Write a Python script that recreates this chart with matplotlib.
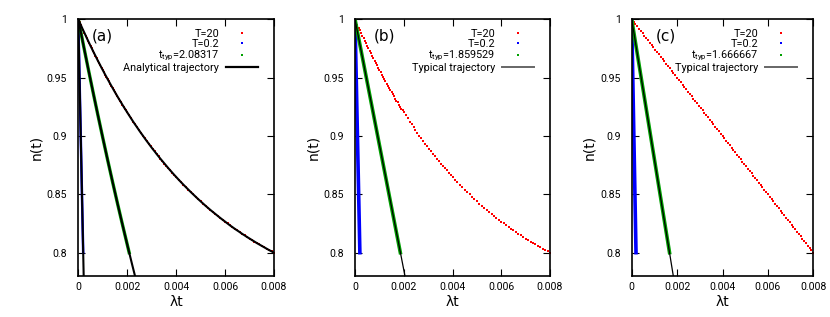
import matplotlib.pyplot as plt
from matplotlib.lines import Line2D

# values (lambda*t, n(t))
# T=20 run, panels (a) and (b)
t_red_ab = [0, 0.00005, 0.0001, 0.00015, 0.0002, 0.00025, 0.0003, 0.00035, 0.0004, 0.00045,
            0.0005, 0.00055, 0.0006, 0.00065, 0.0007, 0.00075, 0.0008, 0.00085, 0.0009, 0.00095,
            0.001, 0.00105, 0.0011, 0.00115, 0.0012, 0.00125, 0.0013, 0.00135, 0.0014, 0.00145,
            0.0015, 0.00155, 0.0016, 0.00165, 0.0017, 0.00175, 0.0018, 0.00185, 0.0019, 0.00195,
            0.002, 0.00208, 0.00216, 0.00224, 0.00232, 0.0024, 0.00248, 0.00256, 0.00264, 0.00272,
            0.0028, 0.00288, 0.00296, 0.00304, 0.00312, 0.0032, 0.00328, 0.00336, 0.00344, 0.00352,
            0.0036, 0.00368, 0.00376, 0.00384, 0.00392, 0.004, 0.0041, 0.0042, 0.0043, 0.0044,
            0.0045, 0.0046, 0.0047, 0.0048, 0.0049, 0.005, 0.0051, 0.0052, 0.0053, 0.0054,
            0.0055, 0.0056, 0.0057, 0.0058, 0.0059, 0.006, 0.0061, 0.0062, 0.0063, 0.0064,
            0.0065, 0.0066, 0.0067, 0.0068, 0.0069, 0.007, 0.0071, 0.0072, 0.0073, 0.0074,
            0.0075, 0.0076, 0.0077, 0.0078, 0.0079, 0.008]
n_red_ab = [1.0, 0.9976, 0.9953, 0.9929, 0.9906, 0.9884, 0.9861, 0.9838, 0.9816, 0.9794,
            0.9772, 0.9751, 0.9729, 0.9708, 0.9687, 0.9666, 0.9645, 0.9625, 0.9605, 0.9584,
            0.9565, 0.9545, 0.9525, 0.9506, 0.9487, 0.9468, 0.9449, 0.9430, 0.9412, 0.9393,
            0.9375, 0.9357, 0.9339, 0.9321, 0.9304, 0.9287, 0.9269, 0.9252, 0.9235, 0.9219,
            0.9202, 0.9176, 0.9150, 0.9124, 0.9099, 0.9075, 0.9050, 0.9026, 0.9003, 0.8979,
            0.8956, 0.8934, 0.8911, 0.8889, 0.8868, 0.8846, 0.8825, 0.8804, 0.8784, 0.8764,
            0.8744, 0.8724, 0.8705, 0.8686, 0.8667, 0.8649, 0.8626, 0.8604, 0.8582, 0.8561,
            0.8540, 0.8519, 0.8499, 0.8479, 0.8459, 0.8440, 0.8421, 0.8402, 0.8384, 0.8366,
            0.8349, 0.8332, 0.8315, 0.8298, 0.8282, 0.8266, 0.8250, 0.8234, 0.8219, 0.8204,
            0.8190, 0.8176, 0.8161, 0.8148, 0.8134, 0.8121, 0.8108, 0.8095, 0.8082, 0.8070,
            0.8058, 0.8046, 0.8034, 0.8022, 0.8011, 0.8000]

# T=20 run, panel (c)
t_red_c = [0, 0.00008, 0.00016, 0.00024, 0.00032, 0.0004, 0.00048, 0.00056, 0.00064, 0.00072,
           0.0008, 0.00088, 0.00096, 0.00104, 0.00112, 0.0012, 0.00128, 0.00136, 0.00144, 0.00152,
           0.0016, 0.00168, 0.00176, 0.00184, 0.00192, 0.002, 0.00208, 0.00216, 0.00224, 0.00232,
           0.0024, 0.00248, 0.00256, 0.00264, 0.00272, 0.0028, 0.00288, 0.00296, 0.00304, 0.00312,
           0.0032, 0.00328, 0.00336, 0.00344, 0.00352, 0.0036, 0.00368, 0.00376, 0.00384, 0.00392,
           0.004, 0.00408, 0.00416, 0.00424, 0.00432, 0.0044, 0.00448, 0.00456, 0.00464, 0.00472,
           0.0048, 0.00488, 0.00496, 0.00504, 0.00512, 0.0052, 0.00528, 0.00536, 0.00544, 0.00552,
           0.0056, 0.00568, 0.00576, 0.00584, 0.00592, 0.006, 0.00608, 0.00616, 0.00624, 0.00632,
           0.0064, 0.00648, 0.00656, 0.00664, 0.00672, 0.0068, 0.00688, 0.00696, 0.00704, 0.00712,
           0.0072, 0.00728, 0.00736, 0.00744, 0.00752, 0.0076, 0.00768, 0.00776, 0.00784, 0.00792,
           0.008]
n_red_c = [1.0, 0.998, 0.996, 0.994, 0.992, 0.99, 0.988, 0.986, 0.984, 0.982,
           0.98, 0.978, 0.976, 0.974, 0.972, 0.97, 0.968, 0.966, 0.964, 0.962,
           0.96, 0.958, 0.956, 0.954, 0.952, 0.95, 0.948, 0.946, 0.944, 0.942,
           0.94, 0.938, 0.936, 0.934, 0.932, 0.93, 0.928, 0.926, 0.924, 0.922,
           0.92, 0.918, 0.916, 0.914, 0.912, 0.91, 0.908, 0.906, 0.904, 0.902,
           0.9, 0.898, 0.896, 0.894, 0.892, 0.89, 0.888, 0.886, 0.884, 0.882,
           0.88, 0.878, 0.876, 0.874, 0.872, 0.87, 0.868, 0.866, 0.864, 0.862,
           0.86, 0.858, 0.856, 0.854, 0.852, 0.85, 0.848, 0.846, 0.844, 0.842,
           0.84, 0.838, 0.836, 0.834, 0.832, 0.83, 0.828, 0.826, 0.824, 0.822,
           0.82, 0.818, 0.816, 0.814, 0.812, 0.81, 0.808, 0.806, 0.804, 0.802,
           0.8]

# t_typ runs (green) and their trajectories (black)
t_green_a = [0, 0.0002, 0.0004, 0.0006, 0.0008, 0.001, 0.0012, 0.0014, 0.0016, 0.0018, 0.002, 0.00208]
n_green_a = [1.0, 0.9789, 0.9582, 0.9379, 0.918, 0.8985, 0.8794, 0.8607, 0.8424, 0.8245, 0.807, 0.8]
t_ana_green = [0, 0.0002, 0.0004, 0.0006, 0.0008, 0.001, 0.0012, 0.0014, 0.0016, 0.0018, 0.002, 0.0022, 0.0024]
n_ana_green = [1.0, 0.9789, 0.9582, 0.9379, 0.918, 0.8985, 0.8794, 0.8607, 0.8424, 0.8245, 0.807, 0.7899, 0.7732]
t_green_b = [0, 0.00186]
t_typ_b = [0, 0.00205]
t_green_c = [0, 0.001667]
t_typ_c = [0, 0.001833]
n_green = [1.0, 0.8]
n_typ = [1.0, 0.78]

# T=0.2 runs (blue)
t_blue = [0, 0.0002]
t_blue_c = [0, 0.00019]
n_blue = [1.0, 0.8]
t_ana_blue = [0, 0.00022]
n_ana_blue = [1.0, 0.78]

t_typ_labels = ["2.08317", "1.859529", "1.666667"]
panel_labels = ["(a)", "(b)", "(c)"]
yticks = [0.8, 0.85, 0.9, 0.95, 1.0]
ytick_labels = ["0.8", "0.85", "0.9", "0.95", "1"]
xticks = [0, 0.002, 0.004, 0.006, 0.008]
xtick_labels = ["0", "0.002", "0.004", "0.006", "0.008"]

RED = "#ff0000"
BLUE = "#0000ff"
GREEN = "#00a000"
small_font = "Roboto"
plt.rcParams["mathtext.fontset"] = "custom"
plt.rcParams["mathtext.rm"] = small_font
plt.rcParams["mathtext.it"] = small_font

fig = plt.figure(figsize=(8.3, 3.17), dpi=100)
W, H = 830.0, 317.0
boxes = [(78.3, 274.0), (355.0, 550.0), (631.7, 813.3)]
top_px, bot_px = 19.3, 276.0
axh = bot_px - top_px
label_x = [13.4, 18.3, 24.3]

for i, (x0, x1) in enumerate(boxes):
    ax = fig.add_axes([x0 / W, 1 - bot_px / H, (x1 - x0) / W, axh / H])
    axw = x1 - x0
    ms = 1.9
    if i == 0:
        ax.plot(t_red_ab, n_red_ab, ls="none", marker="s", ms=1.7, mew=0, color=RED)
        ax.plot(t_blue, n_blue, color=BLUE, lw=1.8)
        ax.plot(t_green_a, n_green_a, color=GREEN, lw=2.4)
        ax.plot(t_red_ab, n_red_ab, color="black", lw=1.5, zorder=4)
        ax.plot(t_ana_green, n_ana_green, color="black", lw=1.5, zorder=4)
        ax.plot(t_ana_blue, n_ana_blue, color="black", lw=1.5, zorder=4)
        line_name = "Analytical trajectory"
    else:
        tg = t_green_b if i == 1 else t_green_c
        tt = t_typ_b if i == 1 else t_typ_c
        tb = t_blue if i == 1 else t_blue_c
        if i == 1:
            ax.plot(t_red_ab, n_red_ab, ls="none", marker="s", ms=ms, mew=0, color=RED)
        else:
            ax.plot(t_red_c, n_red_c, ls="none", marker="s", ms=ms, mew=0, color=RED)
        ax.plot(tb, n_blue, color=BLUE, lw=2.6)
        ax.plot(tg, n_green, color=GREEN, lw=2.6)
        ax.plot(tt, n_typ, color="black", lw=0.9, zorder=4)
        line_name = "Typical trajectory"

    handles = [
        Line2D([], [], ls="none", marker="s", ms=1.8, mew=0, color=RED),
        Line2D([], [], ls="none", marker="s", ms=1.8, mew=0, color=BLUE),
        Line2D([], [], ls="none", marker="s", ms=1.8, mew=0, color=GREEN),
        Line2D([], [], color="black" if i == 0 else "#666666", lw=1.6 if i == 0 else 1.4),
    ]
    names_leg = ["T=20", "T=0.2", r"$\mathrm{t_{typ}}$=" + t_typ_labels[i], line_name]
    ax.legend(handles, names_leg, loc="upper right", frameon=False, markerfirst=False,
              bbox_to_anchor=(1 - 16.0 / axw, 1 - 9.5 / axh),
              borderaxespad=0, borderpad=0, handlelength=3.0, handletextpad=0.6,
              labelspacing=0.0, prop={"family": small_font, "size": 7.8})

    ax.text(label_x[i] / axw, 0.936, panel_labels[i], transform=ax.transAxes,
            fontsize=11, va="center", ha="left")

    ax.set_xlim(0, 0.008)
    ax.set_ylim(0.78, 1.0)
    ax.set_xticks(xticks)
    ax.set_xticklabels(xtick_labels, family=small_font, fontsize=7.6)
    ax.set_yticks(yticks)
    ax.set_yticklabels(ytick_labels, family=small_font, fontsize=7.6)
    ax.tick_params(axis="both", direction="in", top=True, right=True, length=4.7, width=0.8)
    ax.tick_params(axis="x", pad=4)
    ax.tick_params(axis="y", pad=8)
    for s in ax.spines.values():
        s.set_linewidth(1.2)
    ax.set_xlabel("λt", fontsize=10)
    ax.set_ylabel("n(t)", fontsize=10)
    ax.xaxis.set_label_coords(0.5, -19.0 / axh)
    ax.yaxis.set_label_coords(-35.0 / axw, 0.5)

fig.savefig("out.png", dpi=100)
